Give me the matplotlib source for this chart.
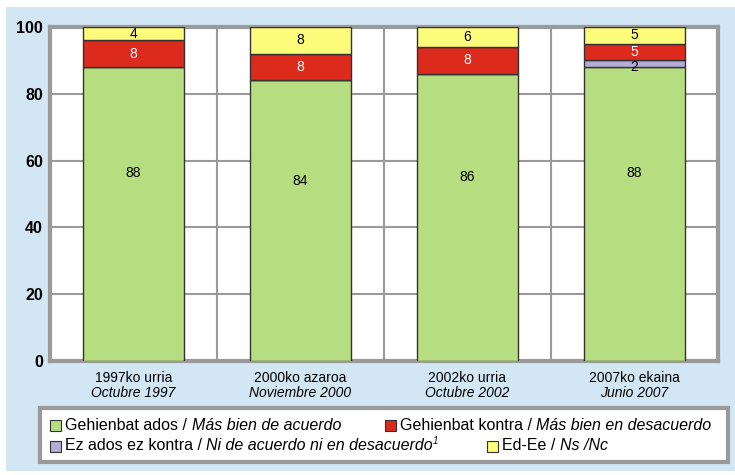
import matplotlib
matplotlib.use("Agg")
import matplotlib.pyplot as plt
from matplotlib.patches import Rectangle
from matplotlib.text import Annotation
import numpy as np

plt.rcParams['font.family'] = ['Liberation Sans', 'DejaVu Sans']

cat_eu = ["1997ko urria", "2000ko azaroa", "2002ko urria", "2007ko ekaina"]
cat_es = ["Octubre 1997", "Noviembre 2000", "Octubre 2002", "Junio 2007"]
ados = [88, 84, 86, 88]
ez = [0, 0, 0, 2]
kontra = [8, 8, 8, 5]
edee = [4, 8, 6, 5]
yticks = [0, 20, 40, 60, 80, 100]

c_green = "#b6dd80"
c_purple = "#b5acd8"
c_red = "#dc2a1c"
c_yellow = "#fdfb7a"
c_bg = "#d2e6f4"
c_grid = "#9a9a9a"

W, H = 735, 475
fig = plt.figure(figsize=(W / 100, H / 100), dpi=100)
fig.patch.set_facecolor("white")
panel = Rectangle((6 / W, (H - 471) / H), (W - 6) / W, 464 / H, transform=fig.transFigure,
                  facecolor=c_bg, edgecolor="none", zorder=-10)
fig.patches.append(panel)

ax = fig.add_axes([50 / W, (H - 361) / H, 668 / W, 334 / H])
ax.set_facecolor("white")

x = np.arange(len(cat_eu))
series = [(ados, c_green, "black"), (ez, c_purple, "black"),
          (kontra, c_red, "white"), (edee, c_yellow, "black")]
bottom = np.zeros(len(x))
for si, (vals, col, tcol) in enumerate(series):
    vals = np.array(vals, dtype=float)
    ax.bar(x, vals, 0.6, bottom=bottom, color=col, edgecolor="#333333",
           linewidth=1.0, zorder=3)
    for i in range(len(x)):
        if vals[i] > 0:
            if si == 0:
                yy = bottom[i] + vals[i] * 0.64
            elif si == 1:
                yy = bottom[i]
            else:
                yy = bottom[i] + vals[i] / 2
            ax.text(x[i], yy, f"{int(vals[i])}", ha="center", va="center",
                    fontsize=10, color=tcol, zorder=4)
    bottom = bottom + vals

ax.set_xlim(-0.5, len(x) - 0.5)
ax.set_ylim(0, 100)
ax.set_yticks(yticks)
ax.set_yticklabels([str(t) for t in yticks], fontsize=11.5, fontweight="bold")
ax.tick_params(axis="y", length=0, pad=5)
ax.set_xticks([])
for yv in yticks[1:-1]:
    ax.axhline(yv, color=c_grid, linewidth=1.5, zorder=1)
for b in np.arange(0.5, len(x) - 0.5, 1.0):
    ax.axvline(b, color=c_grid, linewidth=1.5, zorder=1)
for s in ["left", "bottom", "right", "top"]:
    ax.spines[s].set_color(c_grid)
    ax.spines[s].set_linewidth(3)

for i in range(len(x)):
    ax.annotate(cat_eu[i], xy=(x[i], 0), xycoords="data", xytext=(0, -17),
                textcoords="offset pixels", ha="center", va="center", fontsize=10)
    ax.annotate(cat_es[i], xy=(x[i], 0), xycoords="data", xytext=(0, -32),
                textcoords="offset pixels", ha="center", va="center",
                fontsize=10, style="italic")

# legend box
leg = Rectangle((40 / W, (H - 462) / H), 688 / W, 54 / H, transform=fig.transFigure,
                facecolor="white", edgecolor=c_grid, linewidth=3)
fig.patches.append(leg)

FS = 11.5

def legend_item(px, py, col, parts, sup=None):
    sq = Rectangle((px / W, (H - py - 5.5) / H), 11 / W, 11 / H,
                   transform=fig.transFigure, facecolor=col,
                   edgecolor="#333333", linewidth=0.8)
    fig.patches.append(sq)
    t = fig.text((px + 15) / W, (H - py) / H, parts[0][0], fontsize=FS,
                 style=parts[0][1], va="center", ha="left")
    for txt, st in parts[1:]:
        t = fig.add_artist(Annotation(txt, xy=(1, 0.5), xycoords=t,
                                      va="center", ha="left", fontsize=FS, style=st))
    if sup:
        fig.add_artist(Annotation(sup, xy=(1, 0.5), xycoords=t, xytext=(-0.5, 0),
                                  textcoords="offset points", va="bottom", ha="left",
                                  fontsize=7, style="italic"))

legend_item(50, 425, c_green, [("Gehienbat ados / ", "normal"), ("Más bien de acuerdo", "italic")])
legend_item(385, 425, c_red, [("Gehienbat kontra / ", "normal"), ("Más bien en desacuerdo", "italic")])
legend_item(50, 446, c_purple, [("Ez ados ez kontra / ", "normal"), ("Ni de acuerdo ni en desacuerdo", "italic")], sup="1")
legend_item(487, 446, c_yellow, [("Ed-Ee / ", "normal"), ("Ns /Nc", "italic")])

fig.savefig("out.png", dpi=100, facecolor=fig.get_facecolor())
